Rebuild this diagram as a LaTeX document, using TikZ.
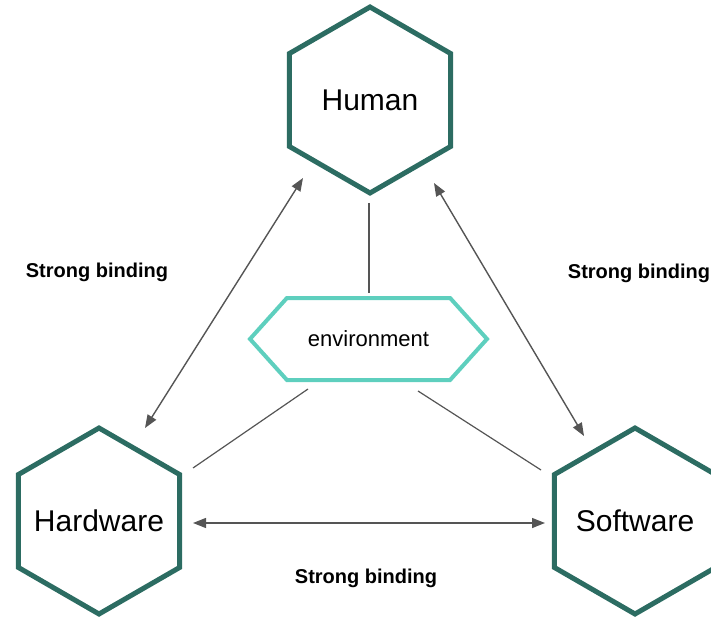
\documentclass[tikz,border=0pt]{standalone}
\usepackage{fontspec}
\setmainfont{Liberation Sans}
\usetikzlibrary{shapes.geometric, shapes.symbols, arrows.meta, positioning, calc}

\definecolor{hexdark}{RGB}{44,108,98}
\definecolor{envteal}{RGB}{94,207,190}
\definecolor{linkgray}{RGB}{85,85,85}

% keeps the word from widening the hexagon
\newcommand{\hexlabel}[1]{\makebox[0pt]{#1}}

\tikzset{
	hexa/.style={draw=hexdark, line width=2.5pt, regular polygon, regular polygon sides=6, shape border rotate=30, minimum size=93pt, inner sep=0pt, font=\fontsize{15}{18}\selectfont},
	envbox/.style={draw=envteal, line width=2pt, signal, signal to=west and east, signal pointer angle=96, minimum width=118.5pt, minimum height=41pt, inner sep=0pt, font=\fontsize{11}{13}\selectfont},
	bind/.style={draw=linkgray, line width=0.7pt, {Triangle[length=6.5pt, width=5pt]}-{Triangle[length=6.5pt, width=5pt]}},
	link/.style={draw=linkgray, line width=0.6pt},
	lbl/.style={font=\fontsize{10}{12}\selectfont\bfseries}
}

\begin{document}
\begin{tikzpicture}[x=0.5pt, y=-0.5pt]
		\useasboundingbox (0, 0) rectangle (711, 620);

		\coordinate (human)    at (370, 100);
		\coordinate (hardware) at (99, 521);
		\coordinate (software) at (635, 521);
		\coordinate (env)      at (368.5, 339);

		\node[hexa] (HUM) at (human) {\hexlabel{Human}};
		\node[hexa] (HW) at (hardware) {\hexlabel{Hardware}};
		\node[hexa] (SW) at (software) {\hexlabel{Software}};
		\node[envbox] (ENV) at (env) {environment};

		\node[lbl] (LBL1) at (97, 272) {Strong binding};
		\node[lbl] (LBL2) at (639, 273) {Strong binding};
		\node[lbl] (LBL3) at (366, 578) {Strong binding};

		\draw[bind] ($(HUM)+(-67,78)$) -- ($(HW)+(46,-93)$);
		\draw[bind] ($(HUM)+(64,83)$) -- ($(SW)+(-51,-85)$);
		\draw[bind] ($(HW)+(94,2)$) -- ($(SW)+(-90,2)$);
		\draw[link] ($(HUM)+(-1,103)$) -- ($(ENV)+(0.5,-46)$);
		\draw[link] ($(ENV)+(-60.5,50)$) -- ($(HW)+(94,-53)$);
		\draw[link] ($(ENV)+(49.5,52)$) -- ($(SW)+(-94,-51)$);
	\end{tikzpicture}
\end{document}
